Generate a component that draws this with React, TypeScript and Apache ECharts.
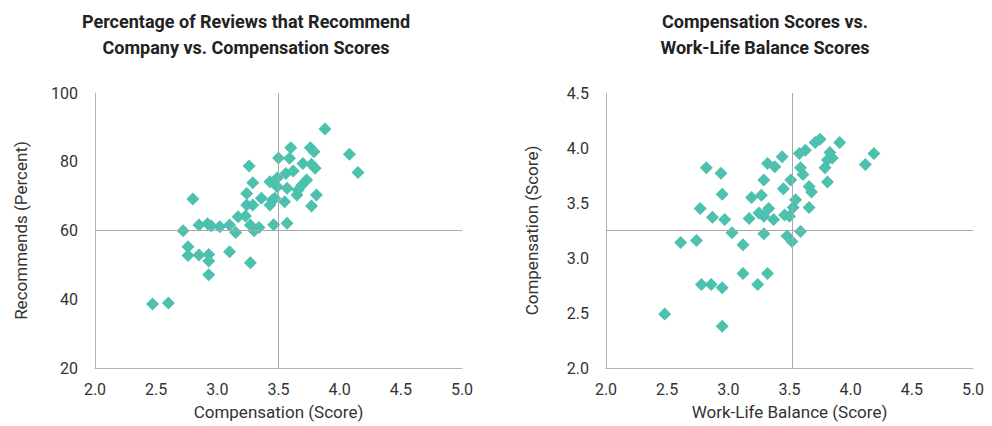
import React, { useEffect, useRef } from "react";
import * as echarts from "echarts";

// Left chart: Compensation score (x) vs % recommending company (y)
const compScoreLeft = [
  2.47, 2.6, 2.72, 2.76, 2.76, 2.8, 2.85, 2.85, 2.92, 2.93, 2.93, 2.93, 2.95, 3.02, 3.1, 3.1,
  3.15, 3.17, 3.23, 3.24, 3.24, 3.26, 3.27, 3.27, 3.29, 3.29, 3.3, 3.34, 3.36, 3.43, 3.49, 3.49,
  3.45, 3.47, 3.43, 3.46, 3.5, 3.55, 3.57, 3.56, 3.59, 3.6, 3.62, 3.65, 3.66, 3.69, 3.7, 3.73,
  3.76, 3.79, 3.77, 3.8, 3.81, 3.77, 3.57, 3.88, 4.08, 4.15,
];
const recommendPct = [
  38.6, 38.9, 59.9, 55.3, 52.7, 69.2, 61.6, 52.9, 62.0, 53.0, 51.1, 47.1, 61.3, 61.1, 61.6, 53.8,
  59.4, 64.0, 64.2, 67.4, 70.8, 78.8, 61.6, 50.6, 73.9, 67.4, 59.9, 60.9, 69.4, 74.2, 75.3, 72.7,
  68.9, 69.4, 67.4, 61.7, 81.1, 68.4, 72.3, 76.6, 81.0, 84.1, 77.3, 70.3, 71.8, 73.2, 79.5, 74.7,
  84.1, 82.9, 79.3, 78.1, 70.3, 67.1, 62.1, 89.5, 82.2, 76.9,
];

// Right chart: Work-life balance score (x) vs Compensation score (y)
const wlbScore = [
  2.48, 2.61, 2.74, 2.78, 2.86, 2.95, 2.95, 3.12, 3.32, 3.24, 2.77, 2.82, 2.94, 2.95, 2.87, 2.97,
  3.03, 3.12, 3.17, 3.19, 3.27, 3.25, 3.29, 3.33, 3.37, 3.29, 3.29, 3.32, 3.38, 3.44, 3.45, 3.51,
  3.46, 3.5, 3.48, 3.52, 3.58, 3.63, 3.71, 3.75, 3.91, 3.83, 3.81, 3.85, 3.79, 3.59, 3.61, 3.81,
  3.66, 3.68, 3.55, 3.53, 3.66, 3.59, 4.19, 4.12,
];
const compScoreRight = [
  2.49, 3.14, 3.16, 2.76, 2.76, 2.73, 2.38, 2.86, 2.86, 2.76, 3.45, 3.82, 3.77, 3.58, 3.37, 3.35,
  3.23, 3.12, 3.36, 3.55, 3.57, 3.41, 3.38, 3.45, 3.35, 3.22, 3.71, 3.86, 3.83, 3.92, 3.63, 3.71,
  3.39, 3.38, 3.2, 3.15, 3.95, 3.98, 4.05, 4.08, 4.05, 3.96, 3.89, 3.91, 3.82, 3.82, 3.76, 3.69,
  3.65, 3.6, 3.53, 3.46, 3.46, 3.24, 3.95, 3.85,
];

// Reference (crosshair) lines
const leftRefX = 3.5;
const leftRefY = 60;
const rightRefX = 3.525;
const rightRefY = 3.25;

const xTicks = [2.0, 2.5, 3.0, 3.5, 4.0, 4.5, 5.0];
const leftYTicks = [20, 40, 60, 80, 100];
const rightYTicks = [2.0, 2.5, 3.0, 3.5, 4.0, 4.5];

const titles = [
  "Percentage of Reviews that Recommend\nCompany vs. Compensation Scores",
  "Compensation Scores vs.\nWork-Life Balance Scores",
];

const TEAL = "#4cc1ad";
const AXIS = "#b4b4b4";
const REF = "#a8a8a8";
const FONT = "Roboto, 'Noto Sans', sans-serif";

export default function App() {
  const ref = useRef<HTMLDivElement>(null);
  useEffect(() => {
    if (!ref.current) return;
    const chart = echarts.init(ref.current, undefined, { renderer: "svg" });
    const labelStyle = { color: "#333", fontFamily: FONT, fontSize: 16 };
    const nameStyle = { color: "#333", fontFamily: FONT, fontSize: 17 };
    const mkX = (gridIndex: number, name: string) => ({
      type: "value",
      gridIndex,
      min: xTicks[0],
      max: xTicks[xTicks.length - 1],
      interval: 0.5,
      name,
      nameLocation: "middle",
      nameGap: 35,
      nameTextStyle: nameStyle,
      axisLine: { show: true, lineStyle: { color: AXIS, width: 1 } },
      axisTick: { show: false },
      splitLine: { show: false },
      axisLabel: { ...labelStyle, margin: 13, formatter: (v: number) => v.toFixed(1) },
    });
    const mkY = (gridIndex: number, name: string, ticks: number[], dec: number) => ({
      type: "value",
      gridIndex,
      min: ticks[0],
      max: ticks[ticks.length - 1],
      interval: ticks[1] - ticks[0],
      name,
      nameLocation: "middle",
      nameGap: 66,
      nameTextStyle: nameStyle,
      axisLine: { show: true, lineStyle: { color: AXIS, width: 1 } },
      axisTick: { show: false },
      splitLine: { show: false },
      axisLabel: { ...labelStyle, margin: 17, formatter: (v: number) => v.toFixed(dec) },
    });
    const mkLine = (x: number, y: number) => ({
      silent: true,
      symbol: "none",
      label: { show: false },
      lineStyle: { color: REF, width: 1, type: "solid" },
      data: [{ xAxis: x }, { yAxis: y }],
    });
    const titleStyle = {
      fontFamily: FONT,
      fontWeight: "bold",
      fontSize: 18,
      lineHeight: 26,
      color: "#222",
    };
    chart.setOption({
      animation: false,
      title: [
        { text: titles[0], left: 241, top: 3, textAlign: "center", textStyle: titleStyle },
        { text: titles[1], left: 760, top: 3, textAlign: "center", textStyle: titleStyle },
      ],
      grid: [
        { left: 95, top: 93, width: 367, height: 275 },
        { left: 606, top: 93, width: 367, height: 275 },
      ],
      xAxis: [mkX(0, "Compensation (Score)"), mkX(1, "Work-Life Balance (Score)")],
      yAxis: [
        mkY(0, "Recommends (Percent)", leftYTicks, 0),
        mkY(1, "Compensation (Score)", rightYTicks, 1),
      ],
      series: [
        {
          type: "scatter",
          xAxisIndex: 0,
          yAxisIndex: 0,
          symbol: "diamond",
          symbolSize: 13,
          itemStyle: { color: TEAL, opacity: 1 },
          data: compScoreLeft.map((x, i) => [x, recommendPct[i]]),
          markLine: mkLine(leftRefX, leftRefY),
        },
        {
          type: "scatter",
          xAxisIndex: 1,
          yAxisIndex: 1,
          symbol: "diamond",
          symbolSize: 13,
          itemStyle: { color: TEAL, opacity: 1 },
          data: wlbScore.map((x, i) => [x, compScoreRight[i]]),
          markLine: mkLine(rightRefX, rightRefY),
        },
      ],
    });
    return () => chart.dispose();
  }, []);
  return (
    <div
      ref={ref}
      style={{ position: "absolute", left: 0, top: 0, width: 992, height: 426, background: "#fff" }}
    />
  );
}
